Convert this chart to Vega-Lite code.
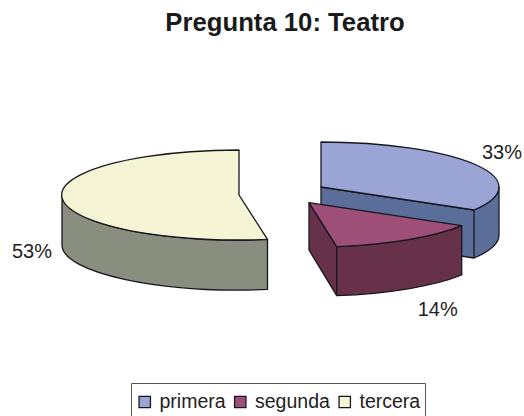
{
 "$schema":"https://vega.github.io/schema/vega-lite/v6.json",
 "width":524,"height":336,"padding":{"top":40,"bottom":40,"left":0,"right":0},
 "autosize":"none",
 "background":"white",
 "config":{"view":{"stroke":null},"font":"Liberation Sans"},
 "title":{"text":"Pregunta 10: Teatro","font":"Liberation Sans","fontSize":25.7,"fontWeight":"bold","color":"#1a1a1a","anchor":"middle","frame":"group","baseline":"alphabetic","offset":-17,"dx":23},
 "data":{"values":[
  {"respuesta":"primera","share":0.33},
  {"respuesta":"segunda","share":0.14},
  {"respuesta":"tercera","share":0.53}
 ]},
 "layer":[
  {"mark":{"type":"square","filled":true,"size":0,"opacity":1,"stroke":"#17171f","strokeWidth":0},
   "encoding":{
    "color":{"field":"respuesta","type":"nominal","scale":{"domain":["primera","segunda","tercera"],"range":["#9aa5d5","#9e4f78","#f5f5d5"]},
     "legend":{"title":null,"orient":"none","legendX":131,"legendY":343,"direction":"horizontal","columns":3,"symbolType":"square","symbolSize":130,"symbolStrokeColor":"#17171f","symbolStrokeWidth":1.3,"symbolOpacity":1,"labelFontSize":19.5,"labelFont":"Liberation Sans","labelColor":"#222222","labelOffset":5,"columnPadding":4.5,"padding":4,"clipHeight":30,"strokeColor":"#555555","fillColor":"white"}}
   }},
  {"mark":{"type":"point","filled":true,"opacity":1,"size":4,"stroke":"#17171f","strokeWidth":1.3,"strokeJoin":"round"},
   "encoding":{
    "color":{"field":"respuesta","type":"nominal","legend":null,"scale":{"domain":["primera","segunda","tercera"],"range":["#5b6e99","#663149","#8a8e7e"]}},
    "shape":{"field":"respuesta","type":"nominal","legend":null,"scale":{"domain":["primera","segunda","tercera"],"range":[
     "M59,-21 L212,2 L212,50 L59,27 Z M212,2 A178,45 0 0 0 237,-21 L237,27 A178,45 0 0 1 212,50 Z",
     "M47,-5.3 L74.7,38.7 L74.7,87.7 L47,42 Z M74.7,38.7 A178,45 0 0 0 199.7,17.7 L199.7,67 A178,45 0 0 1 74.7,87.7 Z",
     "M-200,-13 L-200,37 A177,45 0 0 0 5.5,81.4 L5.5,31.4 A177,45 0 0 1 -200,-13 Z"
    ]}}
   }},
  {"mark":{"type":"point","filled":true,"opacity":1,"size":4,"stroke":"#17171f","strokeWidth":1.3,"strokeJoin":"round"},
   "encoding":{
    "color":{"field":"respuesta","type":"nominal","legend":null,"scale":{"domain":["primera","segunda","tercera"],"range":["#9aa5d5","#9e4f78","#f5f5d5"]}},
    "shape":{"field":"respuesta","type":"nominal","legend":null,"scale":{"domain":["primera","segunda","tercera"],"range":[
     "M59,-66 A178,45 0 0 1 212,2 L59,-21 Z",
     "M47,-5.3 L199.7,17.7 A178,45 0 0 1 74.7,38.7 Z",
     "M-23,-58 A177,45 0 1 0 5.5,31.4 L-23,-13 Z"
    ]}}
   }},
  {"mark":{"type":"text","fontSize":20,"font":"Liberation Sans","color":"#222222","align":"center","baseline":"middle"},
   "encoding":{
    "x":{"field":"share","type":"quantitative","axis":null,"scale":{"domain":[0.14,0.33,0.53],"range":[437.7,502,32],"nice":false,"zero":false}},
    "y":{"field":"share","type":"quantitative","axis":null,"scale":{"domain":[0.14,0.33,0.53],"range":[270,113,212],"nice":false,"zero":false}},
    "text":{"field":"share","type":"quantitative","format":".0%"}
   }}
 ],
 "resolve":{"scale":{"shape":"independent","color":"independent"}}
}
